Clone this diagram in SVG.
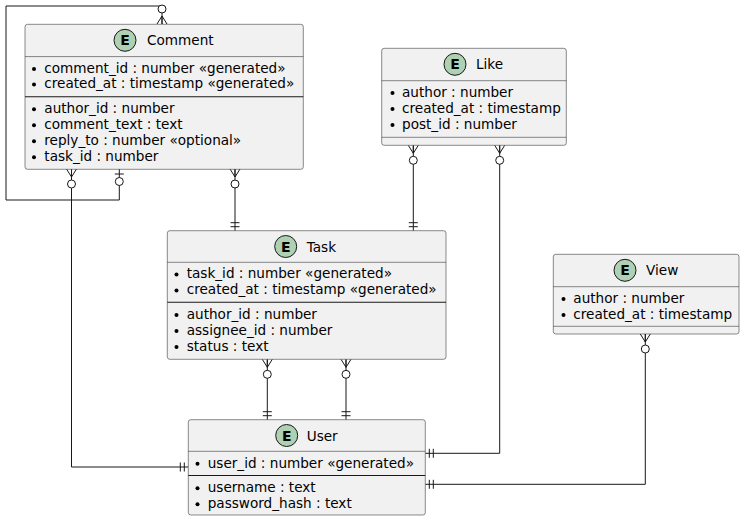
<svg xmlns="http://www.w3.org/2000/svg" xmlns:xlink="http://www.w3.org/1999/xlink" width="744" height="521" viewBox="0 0 744 521">
<style>
.box{fill:#F1F1F1;stroke:#181818;stroke-width:0.5}
.hsep{stroke:#181818;stroke-width:0.5}
.fsep{stroke:#181818;stroke-width:1.1}
.t{font-family:"DejaVu Sans","Liberation Sans",sans-serif;font-size:13.6px;fill:#000}
.ecirc{fill:#ADD1B2;stroke:#181818;stroke-width:1}
.eltr{font-family:"DejaVu Sans","Liberation Sans",sans-serif;font-size:14px;font-weight:bold;fill:#000;text-anchor:middle}
.dot{fill:#000}
.ln{fill:none;stroke:#181818;stroke-width:1}
.mk{fill:#FFFFFF;stroke:#181818;stroke-width:1}
</style>
<defs>
<g id="zm"><path class="ln" d="M-5,0 L0,8 L5,0 M0,0 V8"/><circle class="mk" cx="0" cy="15" r="4"/></g>
<g id="zo"><path class="ln" d="M-4.5,5 H4.5"/><circle class="mk" cx="0" cy="12.5" r="4"/></g>
<g id="oo"><path class="ln" d="M-4.5,4 H4.5 M-4.5,8 H4.5"/></g>
</defs>
<rect width="744" height="521" fill="#FFFFFF"/>

<g id="connectors">
<path class="ln" d="M162,24 V6 H6 V200 H119.3 V169"/>
<path class="ln" d="M71.5,169 V467 H188.3"/>
<path class="ln" d="M235,169 V230.7"/>
<path class="ln" d="M413.3,145.3 V230.7"/>
<path class="ln" d="M499.7,145.3 V453.3 H425.3"/>
<path class="ln" d="M267.3,359.3 V419.7"/>
<path class="ln" d="M346,359.3 V419.7"/>
<path class="ln" d="M645.3,334 V484.3 H425.3"/>
<use xlink:href="#zm" transform="translate(162,24) rotate(180)"/>
<use xlink:href="#zo" transform="translate(119.3,169)"/>
<use xlink:href="#zm" transform="translate(71.5,169)"/>
<use xlink:href="#oo" transform="translate(188.3,467) rotate(90)"/>
<use xlink:href="#zm" transform="translate(235,169)"/>
<use xlink:href="#oo" transform="translate(235,230.7) rotate(180)"/>
<use xlink:href="#zm" transform="translate(413.3,145.3)"/>
<use xlink:href="#oo" transform="translate(413.3,230.7) rotate(180)"/>
<use xlink:href="#zm" transform="translate(499.7,145.3)"/>
<use xlink:href="#oo" transform="translate(425.3,453.3) rotate(-90)"/>
<use xlink:href="#zm" transform="translate(267.3,359.3)"/>
<use xlink:href="#oo" transform="translate(267.3,419.7) rotate(180)"/>
<use xlink:href="#zm" transform="translate(346,359.3)"/>
<use xlink:href="#oo" transform="translate(346,419.7) rotate(180)"/>
<use xlink:href="#zm" transform="translate(645.3,334)"/>
<use xlink:href="#oo" transform="translate(425.3,484.3) rotate(-90)"/>
</g>

<g id="comment">
<rect class="box" x="25" y="24.3" width="278.3" height="145" rx="2.5"/>
<circle class="ecirc" cx="125" cy="40.3" r="11"/>
<text class="eltr" x="125" y="45.3">E</text>
<text class="t" x="147" y="45.3">Comment</text>
<line class="hsep" x1="25" y1="56.6" x2="303.3" y2="56.6"/>
<circle class="dot" cx="34" cy="69" r="2"/>
<text class="t" x="44.3" y="72.7">comment_id : number «generated»</text>
<circle class="dot" cx="34" cy="84.6" r="2"/>
<text class="t" x="44.3" y="88.3">created_at : timestamp «generated»</text>
<line class="fsep" x1="25" y1="96.7" x2="303.3" y2="96.7"/>
<circle class="dot" cx="34" cy="109.3" r="2"/>
<text class="t" x="44.3" y="113">author_id : number</text>
<circle class="dot" cx="34" cy="125.3" r="2"/>
<text class="t" x="44.3" y="129">comment_text : text</text>
<circle class="dot" cx="34" cy="141.3" r="2"/>
<text class="t" x="44.3" y="145">reply_to : number «optional»</text>
<circle class="dot" cx="34" cy="157.3" r="2"/>
<text class="t" x="44.3" y="161">task_id : number</text>
</g>

<g id="like">
<rect class="box" x="381.7" y="48.3" width="184.6" height="97" rx="2.5"/>
<circle class="ecirc" cx="455" cy="64.3" r="11"/>
<text class="eltr" x="455" y="69.3">E</text>
<text class="t" x="476" y="69.3">Like</text>
<line class="hsep" x1="381.7" y1="80.7" x2="566.3" y2="80.7"/>
<circle class="dot" cx="392.5" cy="93" r="2"/>
<text class="t" x="402" y="96.7">author : number</text>
<circle class="dot" cx="392.5" cy="109" r="2"/>
<text class="t" x="402" y="112.7">created_at : timestamp</text>
<circle class="dot" cx="392.5" cy="125" r="2"/>
<text class="t" x="402" y="128.7">post_id : number</text>
<line class="hsep" x1="381.7" y1="137.3" x2="566.3" y2="137.3"/>
</g>

<g id="task">
<rect class="box" x="167.3" y="230.7" width="278.7" height="128.6" rx="2.5"/>
<circle class="ecirc" cx="285.7" cy="246.5" r="11"/>
<text class="eltr" x="285.7" y="251.5">E</text>
<text class="t" x="306.7" y="251.5">Task</text>
<line class="hsep" x1="167.3" y1="262.3" x2="446" y2="262.3"/>
<circle class="dot" cx="176.5" cy="274.6" r="2"/>
<text class="t" x="186.7" y="278.3">task_id : number «generated»</text>
<circle class="dot" cx="176.5" cy="290.6" r="2"/>
<text class="t" x="186.7" y="294.3">created_at : timestamp «generated»</text>
<line class="fsep" x1="167.3" y1="302.3" x2="446" y2="302.3"/>
<circle class="dot" cx="176.5" cy="315" r="2"/>
<text class="t" x="186.7" y="318.7">author_id : number</text>
<circle class="dot" cx="176.5" cy="331" r="2"/>
<text class="t" x="186.7" y="334.7">assignee_id : number</text>
<circle class="dot" cx="176.5" cy="347" r="2"/>
<text class="t" x="186.7" y="350.7">status : text</text>
</g>

<g id="view">
<rect class="box" x="553.3" y="254.3" width="185.7" height="79.7" rx="2.5"/>
<circle class="ecirc" cx="625" cy="270.3" r="11"/>
<text class="eltr" x="625" y="275.3">E</text>
<text class="t" x="646" y="275.3">View</text>
<line class="hsep" x1="553.3" y1="286.7" x2="739" y2="286.7"/>
<circle class="dot" cx="563.5" cy="299" r="2"/>
<text class="t" x="573.3" y="302.7">author : number</text>
<circle class="dot" cx="563.5" cy="315" r="2"/>
<text class="t" x="573.3" y="318.7">created_at : timestamp</text>
<line class="hsep" x1="553.3" y1="326.3" x2="739" y2="326.3"/>
</g>

<g id="user">
<rect class="box" x="188.3" y="419.7" width="237" height="95.3" rx="2.5"/>
<circle class="ecirc" cx="286.7" cy="435.5" r="11"/>
<text class="eltr" x="286.7" y="440.5">E</text>
<text class="t" x="306.7" y="440.5">User</text>
<line class="hsep" x1="188.3" y1="451.3" x2="425.3" y2="451.3"/>
<circle class="dot" cx="197.5" cy="463.8" r="2"/>
<text class="t" x="207.7" y="467.5">user_id : number «generated»</text>
<line class="fsep" x1="188.3" y1="475.5" x2="425.3" y2="475.5"/>
<circle class="dot" cx="197.5" cy="488.3" r="2"/>
<text class="t" x="207.7" y="492">username : text</text>
<circle class="dot" cx="197.5" cy="504.3" r="2"/>
<text class="t" x="207.7" y="508">password_hash : text</text>
</g>
</svg>
